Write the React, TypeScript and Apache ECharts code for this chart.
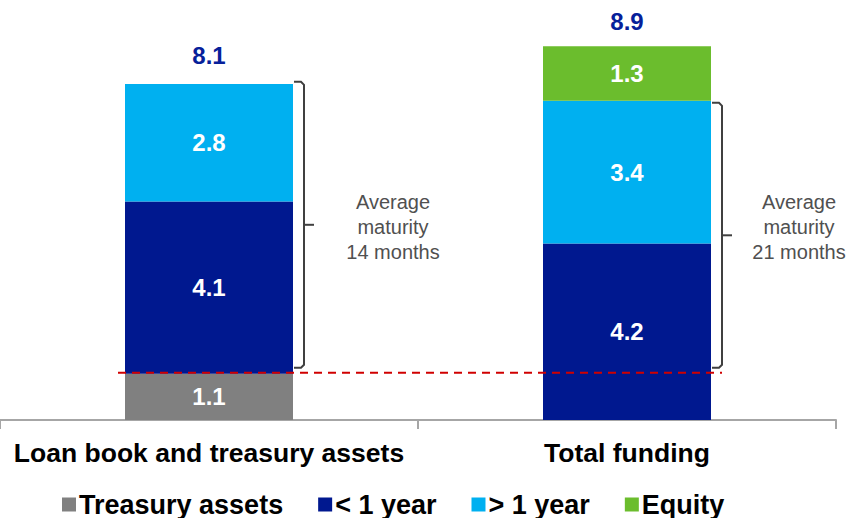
import React, { useEffect, useRef } from "react";
import * as echarts from "echarts";

const categories = ["Loan book and treasury assets", "Total funding"];
const treasuryAssets: (number | string)[] = [1.1, "-"];
const underOneYear = [4.1, 4.2];
const overOneYear = [2.8, 3.4];
const equity: (number | string)[] = ["-", 1.3];
const totals = [8.1, 8.9];
const seriesNames = ["Treasury assets", "< 1 year", "> 1 year", "Equity"];
const bracketRanges = [
  [1.1, 8.1],
  [1.1, 7.6],
];
const bracketTexts = ["Average\nmaturity\n14 months", "Average\nmaturity\n21 months"];
const thresholdValue = 1.1;

const FONT = "'Liberation Sans', Arial, Helvetica, sans-serif";
const COLORS = ["#808080", "#00188F", "#00B0F0", "#6BBD2D"];
const BAR_WIDTH = 168;

export default function App() {
  const ref = useRef<HTMLDivElement>(null);

  useEffect(() => {
    if (!ref.current) return;
    const chart = echarts.init(ref.current, null, { renderer: "svg" });
    const insideLabel = {
      show: true,
      position: "inside" as const,
      color: "#ffffff",
      fontFamily: FONT,
      fontWeight: "bold" as const,
      fontSize: 24,
      formatter: (p: any) => Number(p.value).toFixed(1),
    };
    const dataArrays = [treasuryAssets, underOneYear, overOneYear, equity];
    chart.setOption({
      animation: false,
      textStyle: { fontFamily: FONT },
      grid: { left: 0, right: 16, top: 0, bottom: 98, containLabel: false },
      xAxis: {
        type: "category",
        data: categories,
        boundaryGap: true,
        axisLine: { show: true, lineStyle: { color: "#A6A6A6", width: 2 } },
        axisTick: { show: true, length: 9, lineStyle: { color: "#A6A6A6", width: 2 } },
        axisLabel: {
          interval: 0,
          color: "#000000",
          fontFamily: FONT,
          fontWeight: "bold",
          fontSize: 26.5,
          margin: 19,
        },
      },
      yAxis: {
        type: "value",
        min: 0,
        max: 10,
        show: false,
        splitLine: { show: false },
      },
      legend: {
        data: seriesNames,
        left: 62,
        top: 491,
        icon: "rect",
        itemWidth: 14,
        itemHeight: 14,
        itemGap: 35,
        padding: 0,
        textStyle: {
          color: "#000000",
          fontFamily: FONT,
          fontWeight: "bold",
          fontSize: 27,
          padding: [0, 0, 0, -2],
        },
      },
      series: [
        ...seriesNames.map((name, i) => ({
          name,
          type: "bar",
          stack: "total",
          barWidth: BAR_WIDTH,
          data: dataArrays[i],
          itemStyle: { color: COLORS[i] },
          label: insideLabel,
        })),
        {
          name: "Total",
          type: "scatter",
          data: totals,
          symbolSize: 1,
          itemStyle: { color: "rgba(0,0,0,0)", opacity: 1 },
          label: {
            show: true,
            position: "top",
            distance: 12,
            color: "#06209A",
            fontFamily: FONT,
            fontWeight: "bold",
            fontSize: 24,
            formatter: (p: any) => Number(p.value).toFixed(1),
          },
        },
      ],
    });

    const px = (cat: number, v: number) =>
      chart.convertToPixel({ xAxisIndex: 0, yAxisIndex: 0 }, [cat, v]) as number[];

    const graphics: any[] = [];
    const left0 = px(0, thresholdValue);
    const right1 = px(1, thresholdValue);
    graphics.push({
      type: "line",
      z: 100,
      shape: {
        x1: left0[0] - BAR_WIDTH / 2 - 7,
        y1: left0[1] - 1,
        x2: right1[0] + BAR_WIDTH / 2 + 11,
        y2: right1[1] - 1,
      },
      style: { stroke: "#D00000", lineWidth: 2, lineDash: [8, 6] },
    });

    bracketRanges.forEach((range, i) => {
      const bottom = px(i, range[0]);
      const top = px(i, range[1]);
      const x0 = bottom[0] + BAR_WIDTH / 2 + 1;
      const x1 = x0 + 10;
      const yT = top[1] + 2;
      const yB = bottom[1] - 6;
      const yM = (yT + yB) / 2;
      graphics.push({
        type: "polyline",
        z: 100,
        shape: {
          points: [
            [x0, yT],
            [x1 - 3, yT],
            [x1, yT + 3],
            [x1, yB - 3],
            [x1 - 3, yB],
            [x0, yB],
          ],
        },
        style: { stroke: "#404040", lineWidth: 2, fill: null },
      });
      graphics.push({
        type: "line",
        z: 100,
        shape: { x1: x1, y1: yM, x2: x1 + 10, y2: yM },
        style: { stroke: "#404040", lineWidth: 2 },
      });
      graphics.push({
        type: "text",
        z: 100,
        x: x0 + (i === 0 ? 99 : 87),
        y: i === 0 ? yM + 2 : yM - 8,
        style: {
          text: bracketTexts[i],
          fill: "#505050",
          font: `20px ${FONT}`,
          lineHeight: 25,
          align: "center",
          verticalAlign: "middle",
        },
      });
    });

    chart.setOption({ graphic: graphics });

    return () => chart.dispose();
  }, []);

  return (
    <div
      ref={ref}
      style={{ position: "fixed", left: 0, top: 0, width: 852, height: 518, background: "#fff" }}
    />
  );
}
